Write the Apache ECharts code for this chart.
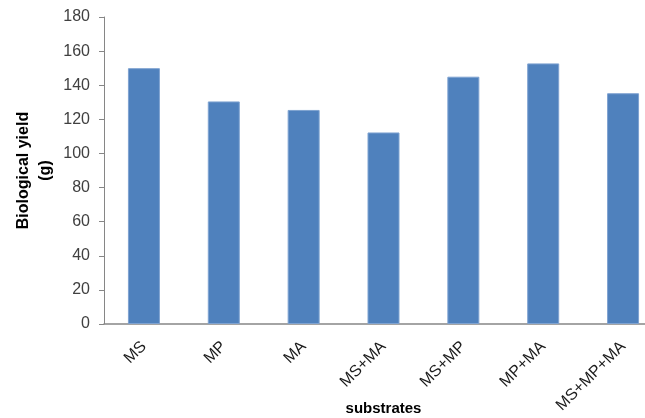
<!DOCTYPE html>
<html><head><meta charset="utf-8">
<script src="https://cdn.jsdelivr.net/npm/echarts@6/dist/echarts.min.js"></script>
<style>html,body{margin:0;padding:0;background:#fff}#c{width:645px;height:418px}</style>
</head><body><div id="c"></div>
<script>
const categories = ['MS','MP','MA','MS+MA','MS+MP','MP+MA','MS+MP+MA'];
const yieldValues = [150, 130.5, 125.5, 112.3, 145, 152.8, 135.3];
const yTicks = {min: 0, max: 180, interval: 20};

const chart = echarts.init(document.getElementById('c'));
chart.setOption({
  animation: false,
  grid: {left: 104, right: -18, top: 17, bottom: 94, containLabel: false, outerBoundsMode: 'none'},
  xAxis: {
    type: 'category',
    data: categories,
    name: 'substrates',
    nameLocation: 'middle',
    nameGap: 77,
    nameMoveOverlap: false,
    nameTextStyle: {fontFamily: 'Liberation Sans', fontWeight: 'bold', fontSize: 15, color: '#000'},
    axisLine: {lineStyle: {color: '#868686', width: 1.5}},
    axisTick: {show: false},
    axisLabel: {rotate: 45, margin: 20, fontFamily: 'Liberation Sans', fontSize: 16, color: '#1a1a1a', interval: 0}
  },
  yAxis: {
    type: 'value',
    min: yTicks.min, max: yTicks.max, interval: yTicks.interval,
    name: 'Biological yield\n(g)',
    nameLocation: 'middle',
    nameGap: 47,
    nameMoveOverlap: false,
    nameTextStyle: {fontFamily: 'Liberation Sans', fontWeight: 'bold', fontSize: 16, color: '#000', lineHeight: 22, align: 'center'},
    axisLine: {show: true, lineStyle: {color: '#868686', width: 1}},
    axisTick: {show: true, length: 5, lineStyle: {color: '#868686'}},
    splitLine: {show: false},
    axisLabel: {margin: 14, fontFamily: 'Liberation Sans', fontSize: 16, color: '#404040'}
  },
  series: [{
    type: 'bar',
    data: yieldValues,
    barWidth: 32,
    itemStyle: {color: '#4F81BD', borderColor: '#7fa3d1', borderWidth: 1}
  }]
});
</script></body></html>
